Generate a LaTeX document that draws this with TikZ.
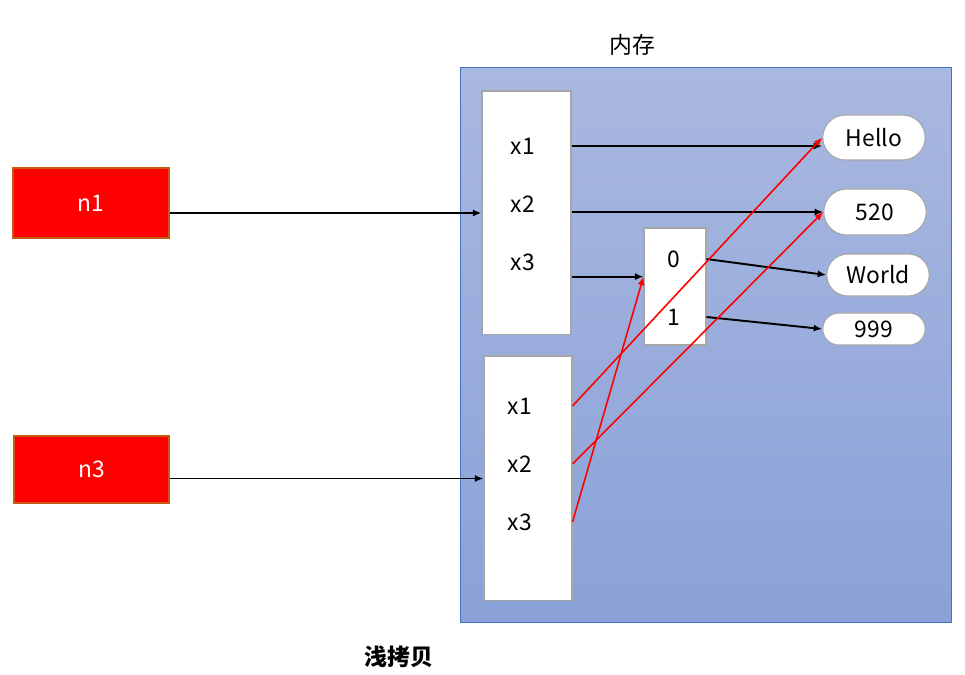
\documentclass[tikz,border=0pt]{standalone}
\usepackage{fontspec}
\setmainfont{Noto Sans CJK SC}
\usetikzlibrary{arrows.meta,shapes.misc}
\definecolor{memtop}{HTML}{A9B8E0}
\definecolor{membot}{HTML}{8AA1D8}
\definecolor{memline}{HTML}{4472C4}
\definecolor{cellline}{HTML}{A6A6A6}
\definecolor{varline}{HTML}{C55A11}

\tikzset{
  var/.style={draw=varline,fill=red,text=white,line width=0.6pt},
  cell/.style={draw=cellline,fill=white,line width=0.6pt},
  val/.style={rounded rectangle,draw=cellline,fill=white,line width=0.6pt,minimum width=2.12cm,inner sep=1pt},
  ref/.style={line width=1.1pt,-{Latex[length=1.7mm,width=1.4mm]}},
  redref/.style={ref,red,line width=0.9pt}
}

\begin{document}
\begin{tikzpicture}[x=0.02cm,y=-0.02cm,font=\fontsize{13}{15}\selectfont]
\useasboundingbox (0,0) rectangle (965,675);

% memory
\node[draw=memline,line width=0.6pt,top color=memtop,bottom color=membot,
  minimum width=9.84cm,minimum height=11.12cm] (mem) at (706,345) {};
\node (memlabel) at (632,45) {内存};

% variables
\node[var,minimum width=3.12cm,minimum height=1.4cm] (n1) at (91,203) {n1};
\node[var,minimum width=3.1cm,minimum height=1.34cm] (n3) at (91.5,469.5) {n3};

% objects
\node[cell,minimum width=1.78cm,minimum height=4.88cm] (a) at (526.5,213) {};
\node (ax1) at (523,146) {x1};
\node (ax2) at (523,204) {x2};
\node (ax3) at (523,262) {x3};

\node[cell,minimum width=1.76cm,minimum height=4.9cm] (b) at (528,478.5) {};
\node (bx1) at (520,406) {x1};
\node (bx2) at (520,464) {x2};
\node (bx3) at (520,522) {x3};

% array
\node[cell,minimum width=1.24cm,minimum height=2.34cm] (arr) at (675,286.5) {};
\node (arr0) at (674,259) {0};
\node (arr1) at (674,317) {1};

% values
\node[val,minimum height=0.9cm] (hello) at (874,137.5) {Hello};
\node[val,minimum height=0.92cm] (v520) at (875,212) {520};
\node[val,minimum height=0.84cm] (world) at (878,275) {World};
\node[val,minimum height=0.64cm] (v999) at (874,329) {999};

\draw[ref] (n1.east |- a.west) -- (a.west);
\draw[ref] (n3.east |- b.west) -- (b.west);

\draw[ref] (ax1 -| a.east) -- (ax1 -| hello.west);
\draw[ref] (a.east |- v520.west) -- (v520.west);
\draw[ref] (ax3.south -| a.east) -- (ax3.south -| arr.west);
\draw[ref] (arr0 -| arr.east) -- (world.west);
\draw[ref] (arr1 -| arr.east) -- (v999.west);

\draw[redref] (bx1 -| b.east) -- (hello.west);
\draw[redref] (bx2 -| b.east) -- (v520.west);
\draw[redref] (bx3 -| b.east) -- (ax3.south -| arr.west);

\node[font=\fontsize{13}{15}\selectfont\bfseries] (title) at (399,657) {浅拷贝};
\end{tikzpicture}
\end{document}
